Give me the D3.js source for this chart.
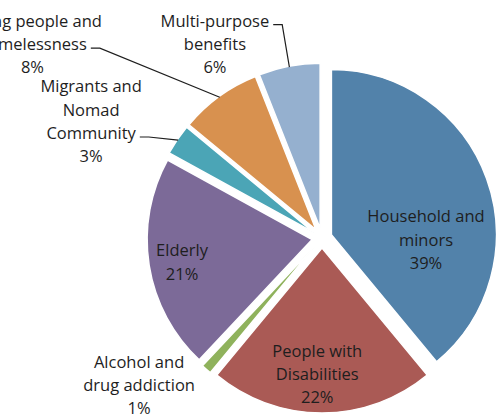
<!DOCTYPE html>
<html>
<head>
<meta charset="utf-8">
<script src="https://cdn.jsdelivr.net/npm/d3@7"></script>
<style>
  html, body { margin: 0; padding: 0; background: #fff; }
  svg { display: block; }
  text { font-family: "Open Sans", sans-serif; font-size: 16.5px; fill: #1e1e1e; }
</style>
</head>
<body>
<svg id="chart" width="498" height="415"></svg>
<script>
// ---- data ----
const categories = [
  "Household and minors",
  "People with Disabilities",
  "Alcohol and drug addiction",
  "Elderly",
  "Migrants and Nomad Community",
  "Young people and homelessness",
  "Multi-purpose benefits"
];
const labelLines = [
  ["Household and", "minors"],
  ["People with", "Disabilities"],
  ["Alcohol and", "drug addiction"],
  ["Elderly"],
  ["Migrants and", "Nomad", "Community"],
  ["Young people and", "homelessness"],
  ["Multi-purpose", "benefits"]
];
const values = [39, 22, 1, 21, 3, 8, 6];
const colors = ["#5282AA", "#AA5A55", "#8FB25C", "#7C6A98", "#4BA5B6", "#D8914F", "#95B0CF"];

// ---- layout (not data) ----
const W = 498, H = 415;
const cx = 322, cy = 238, R = 165, explode = 10;
const lineH = 23.3;
// label placement: [angle in degrees clockwise from 12 o'clock, distance from centre]
const labelPolar = [[91, 104], [182, 136], [231.2, 234.7], [260.3, 142], [296.8, 258.7], [303.8, 348.5], [331.1, 221.6]];
// which text line a leader line attaches to (-1 = none)
const leaderLine = [-1, -1, -1, -1, 2, 1, 0];

const svg = d3.select("#chart");
const g = svg.append("g").attr("transform", `translate(${cx},${cy})`);

const pie = d3.pie().sort(null).value(d => d).startAngle(0).endAngle(2 * Math.PI);
const arcs = pie(values);
const arc = d3.arc().innerRadius(0).outerRadius(R);

function offset(d) {
  const m = (d.startAngle + d.endAngle) / 2;
  return [Math.sin(m) * explode, -Math.cos(m) * explode];
}

g.selectAll("path.slice")
  .data(arcs)
  .enter().append("path")
  .attr("class", "slice")
  .attr("d", arc)
  .attr("transform", d => { const o = offset(d); return `translate(${o[0]},${o[1]})`; })
  .attr("fill", (d, i) => colors[i])
  .attr("stroke", "#fff")
  .attr("stroke-width", 1.5);

const total = d3.sum(values);
const fmt = v => Math.round(v / total * 100) + "%";

arcs.forEach((d, i) => {
  const [a, dist] = labelPolar[i];
  const rad = a * Math.PI / 180;
  const lx = Math.sin(rad) * dist, ly = -Math.cos(rad) * dist;
  const lines = labelLines[i].concat([fmt(values[i])]);
  const n = lines.length;
  const tg = g.append("g");
  const texts = lines.map((t, k) => tg.append("text")
    .attr("x", lx)
    .attr("y", ly + (k - (n - 1) / 2) * lineH)
    .attr("dy", "0.36em")
    .attr("text-anchor", "middle")
    .text(t));
  if (leaderLine[i] >= 0) {
    const k = leaderLine[i];
    const tl = texts[k].node().getComputedTextLength();
    const y0 = ly + (k - (n - 1) / 2) * lineH + 4;
    const x0 = lx + tl / 2 + 4;
    const o = offset(d);
    const m = (d.startAngle + d.endAngle) / 2;
    const px = o[0] + Math.sin(m) * (R - 1);
    const py = o[1] - Math.cos(m) * (R - 1);
    g.insert("path", "g")
      .attr("d", d3.line()([[x0, y0], [x0 + 9, y0], [px, py]]))
      .attr("fill", "none")
      .attr("stroke", "#1e1e1e")
      .attr("stroke-width", 1.2);
  }
});
</script>
</body>
</html>
